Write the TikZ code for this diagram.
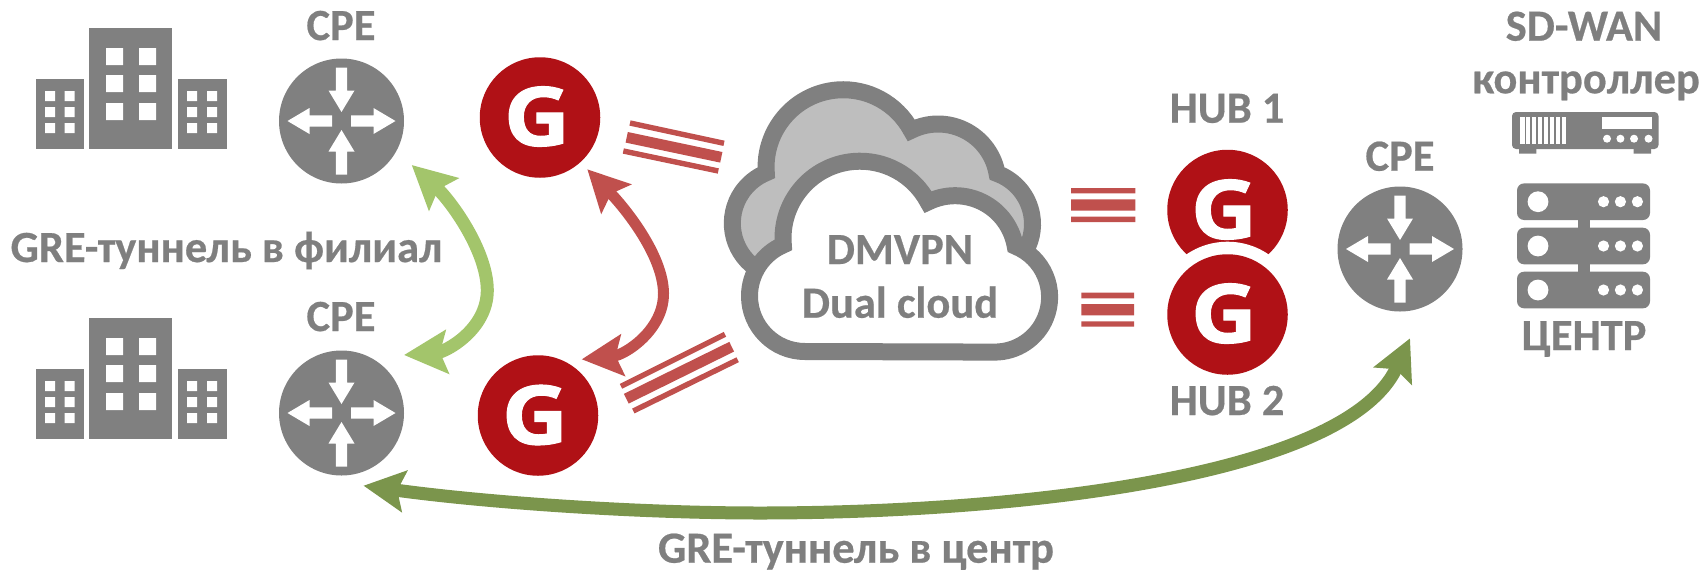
\documentclass[tikz,border=0pt]{standalone}
\usepackage{fontspec}
\setmainfont{Carlito}[BoldFeatures={FakeBold=0.5}]
\newfontfamily\gfont{Open Sans}[BoldFeatures={FakeBold=1.2,FakeStretch=1.12}]
\usetikzlibrary{arrows.meta,calc}
\definecolor{ggray}{HTML}{808080}
\definecolor{txtgray}{HTML}{7F7F7F}
\definecolor{cloudfill}{HTML}{BEBEBE}
\definecolor{gred}{HTML}{B01116}
\definecolor{stripe}{HTML}{C0504D}
\definecolor{lgreen}{HTML}{A3C56B}
\definecolor{dgreen}{HTML}{7B954C}
\tikzset{
  lbl/.style={anchor=base,text=txtgray,inner sep=0pt,font=\fontsize{44.5}{50}\selectfont\bfseries},
  routerdisk/.style={circle,fill=ggray,minimum size=125pt,inner sep=0pt},
  gdisk/.style={circle,fill=gred,minimum size=120.5pt,inner sep=0pt},
  gletter/.style={text=white,inner sep=0pt,font=\fontsize{82}{90}\gfont\bfseries},
  cloudline/.style={draw=ggray,line width=17pt,miter limit=10,line join=miter},
  thinbar/.style={stripe,line width=5.4pt},
  thickbar/.style={stripe,line width=10.8pt},
  headl/.style={{Stealth[length=43pt,width=43pt,inset=7pt]}-{Stealth[length=43pt,width=43pt,inset=7pt]}},
  headr/.style={{Stealth[length=41pt,width=41pt,inset=7pt]}-{Stealth[length=41pt,width=41pt,inset=7pt]}},
}
\newcommand{\routerarrows}[1]{%
  \begin{scope}[shift={(#1)}]
    \fill[white] (-5.6,-53.5)--(5.6,-53.5)--(5.6,-30.5)--(13,-30.5)--(0,-9)--(-13,-30.5)--(-5.6,-30.5)--cycle;
    \fill[white] (-5.6,53.5)--(5.6,53.5)--(5.6,30.5)--(13,30.5)--(0,9)--(-13,30.5)--(-5.6,30.5)--cycle;
    \fill[white] (9.5,-5.6)--(32,-5.6)--(32,-13)--(54,0)--(32,13)--(32,5.6)--(9.5,5.6)--cycle;
    \fill[white] (-9.5,-5.6)--(-32,-5.6)--(-32,-13)--(-54,0)--(-32,13)--(-32,5.6)--(-9.5,5.6)--cycle;
  \end{scope}}
\newcommand{\buildings}[1]{%
  \begin{scope}[yshift=#1]
    \fill[ggray] (36,79) rectangle (84,149);
    \fill[ggray] (89,28) rectangle (172,149);
    \fill[ggray] (178,79) rectangle (227,149);
    \fill[white] (106,48) rectangle (123,65) (139,48) rectangle (156,65)
                 (106,75) rectangle (123,92) (139,75) rectangle (156,92)
                 (106,103) rectangle (123,120) (139,103) rectangle (156,120);
    \fill[white] (45,91) rectangle (55,101) (64.5,91) rectangle (74.5,101)
                 (45,107) rectangle (55,117) (64.5,107) rectangle (74.5,117)
                 (45,123) rectangle (55,133) (64.5,123) rectangle (74.5,133);
    \fill[white] (187,91) rectangle (197,101) (207,91) rectangle (217,101)
                 (187,107) rectangle (197,117) (207,107) rectangle (217,117)
                 (187,123) rectangle (197,133) (207,123) rectangle (217,133);
  \end{scope}}
\newcommand{\serverrow}[1]{%
  \fill[ggray,rounded corners=7pt] (1517,#1-18.3) rectangle (1650,#1+18.3);
  \fill[white] (1538,#1) circle[radius=10.4pt];
  \fill[white] (1603.5,#1) circle[radius=5.6pt] (1620.4,#1) circle[radius=5.6pt] (1637.4,#1) circle[radius=5.6pt];}
\begin{document}
\begin{tikzpicture}[x=1pt,y=1pt,yscale=-1]
\useasboundingbox (0,0) rectangle (1704,571);
% buildings
\buildings{0pt}
\buildings{290pt}
% routers
\node[routerdisk] (r1) at (341.5,121) {};
\node[routerdisk] (r2) at (341.5,413) {};
\node[routerdisk] (r3) at (1400,249) {};
\routerarrows{r1}
\routerarrows{r2}
\routerarrows{r3}
% G disks
\node[gdisk] (g1) at (540,117.5) {};
\node[gdisk] (g2) at (538,415.5) {};
\node[gletter] at (537,116.5) {G};
\node[gletter] at (535,415) {G};
\node[gdisk] (h1) at (1227.5,210) {};
\fill[white] (1227.5,314.5) circle[radius=72.8pt];
\node[gdisk] (h2) at (1227.5,314.5) {};
\node[gletter] at (1224,209.5) {G};
\node[gletter] at (1224,313.5) {G};
% clouds
\draw[cloudline,fill=cloudfill] (755.6,268)
  arc[start angle=125,end angle=247.8,radius=54.6pt]
  arc[start angle=175.7,end angle=331.7,radius=77.2pt]
  arc[start angle=243.4,end angle=350,radius=59.9pt]
  arc[start angle=290,end angle=395,radius=53.9pt];
\draw[cloudline,fill=white] (805,351.5)
  arc[start angle=90,end angle=247,radius=55.5pt]
  arc[start angle=175,end angle=332,radius=77pt]
  arc[start angle=243.6,end angle=350,radius=61pt]
  arc[start angle=292,end angle=450,radius=55pt]
  -- cycle;
\node[lbl] (dm) at (900,264) {DMVPN};
\node[lbl] (dc) at (900,317.7) {Dual cloud};
% stripes
\draw[thinbar] (630,123)--(724,143.3);
\draw[thickbar] (626.7,137.3)--(721.3,157.3);
\draw[thinbar] (623.3,151)--(718.3,171);
\draw[thinbar] (621,386.3)--(725,334.3);
\draw[thickbar] (626.3,398.7)--(731.7,346.7);
\draw[thinbar] (633.3,411)--(737.7,359.7);
\fill[stripe] (1071,188) rectangle (1135.4,193.3) (1071,199.3) rectangle (1135.4,210.7) (1071,216.7) rectangle (1135.4,222);
\fill[stripe] (1081.3,292.7) rectangle (1134,298.3) (1081.3,304) rectangle (1134,315.3) (1081.3,321.3) rectangle (1134,326.7);
% tunnels
\coordinate (la) at (411.7,165);
\coordinate (lm) at (487.3,290);
\coordinate (lb) at (404,355);
\coordinate (ra) at (587.3,169.3);
\coordinate (rm) at (663.5,293);
\coordinate (rb) at (581.7,359.3);
\coordinate (da) at (363.5,485.7);
\coordinate (dm2) at (760,513);
\coordinate (db) at (1410,338.3);
\draw[lgreen,line width=13pt,headl] (la) .. controls (450,200) and (487,250) .. (lm) .. controls (487.5,330) and (445,352) .. (lb);
\draw[stripe,line width=11pt,headr] (ra) .. controls (625,208) and (663,255) .. (rm) .. controls (664,330) and (625,355) .. (rb);
\draw[dgreen,line width=13pt,headr] (da) .. controls (490,503) and (640,513) .. (dm2) .. controls (1000,513) and (1345,480) .. (db);
% controller device
\fill[ggray] (1519,148) rectangle (1536.4,153.7) (1633.5,148) rectangle (1651,153.7);
\fill[ggray,rounded corners=4pt] (1512,112) rectangle (1658.5,149);
\fill[white] (1520,117) rectangle (1566,144);
\foreach \gx in {1525.5,1531,1537,1543,1549,1555,1561}{\fill[ggray] (\gx-0.9,117) rectangle (\gx+0.9,144);}
\fill[white] (1602,117) rectangle (1652,129);
\foreach \gx in {1607,1620.4,1634,1648.5}{\fill[white] (\gx,138.7) circle[radius=4pt];}
% server stack
\fill[ggray] (1578,215) rectangle (1590,280);
\serverrow{201.7}
\serverrow{246}
\serverrow{290}
% labels
\node[lbl] (cpe1) at (341,40) {CPE};
\node[lbl] (cpe2) at (341,331) {CPE};
\node[lbl] (cpe3) at (1400,170.7) {CPE};
\node[lbl] (hub1) at (1227,122.7) {HUB 1};
\node[lbl] (hub2) at (1227,415) {HUB 2};
\node[lbl] (sd) at (1584,40.7) {SD-WAN};
\node[lbl] (ctl) at (1586,93.3) {контроллер};
\node[lbl] (ctr) at (1584,350) {ЦЕНТР};
\node[lbl] (t1) at (226.5,262) {GRE-туннель в филиал};
\node[lbl] (t2) at (856,562.7) {GRE-туннель в центр};
\end{tikzpicture}
\end{document}
